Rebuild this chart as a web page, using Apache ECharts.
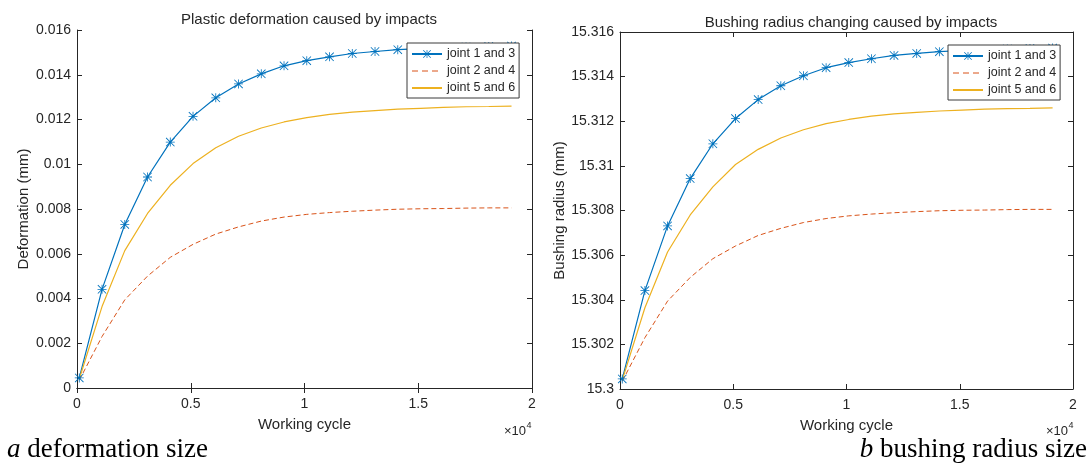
<!DOCTYPE html>
<html>
<head>
<meta charset="utf-8">
<script src="https://cdn.jsdelivr.net/npm/echarts@6/dist/echarts.min.js"></script>
<style>
  html, body { margin: 0; padding: 0; background: #fff; }
  #chart { width: 1091px; height: 463px; }
</style>
</head>
<body>
<div id="chart"></div>
<script>
// Working cycles at which the joints were sampled
const cycles = [100, 1100, 2100, 3100, 4100, 5100, 6100, 7100, 8100, 9100,
                10100, 11100, 12100, 13100, 14100, 15100, 16100, 17100, 18100, 19100];

// Plastic deformation (mm)
const deformJoint13 = [0.00045, 0.00441, 0.00731, 0.00943, 0.01099, 0.01214, 0.01297, 0.01359, 0.01404, 0.0144,
                       0.01463, 0.0148, 0.01495, 0.01504, 0.01512, 0.01517, 0.01521, 0.01524, 0.01526, 0.01528];
const deformJoint24 = [0.00035, 0.0023, 0.00394, 0.005, 0.00584, 0.00642, 0.00688, 0.0072, 0.00746, 0.00764,
                       0.00776, 0.00784, 0.0079, 0.00795, 0.00799, 0.00801, 0.00802, 0.00804, 0.00805, 0.00805];
const deformJoint56 = [0.0004, 0.00364, 0.00614, 0.0078, 0.00906, 0.01003, 0.01074, 0.01125, 0.01162, 0.01189,
                       0.01208, 0.01223, 0.01233, 0.0124, 0.01246, 0.0125, 0.01254, 0.01257, 0.01258, 0.0126];

// Bushing radius (mm)
const radiusJoint13 = [15.30045, 15.30441, 15.30731, 15.30943, 15.31099, 15.31212, 15.31297, 15.31359, 15.31404, 15.3144,
                       15.31463, 15.3148, 15.31495, 15.31504, 15.31512, 15.31517, 15.31521, 15.31524, 15.31526, 15.31528];
const radiusJoint24 = [15.30035, 15.3023, 15.30394, 15.305, 15.30584, 15.30641, 15.30688, 15.3072, 15.30746, 15.30764,
                       15.30776, 15.30784, 15.3079, 15.30795, 15.30799, 15.30801, 15.30802, 15.30804, 15.30805, 15.30805];
const radiusJoint56 = [15.3004, 15.30364, 15.30614, 15.3078, 15.30906, 15.31006, 15.31074, 15.31125, 15.31162, 15.31189,
                       15.31208, 15.31223, 15.31233, 15.3124, 15.31246, 15.3125, 15.31254, 15.31257, 15.31258, 15.3126];

const seriesNames = ['joint 1 and 3', 'joint 2 and 4', 'joint 5 and 6'];
const plotTitles = ['Plastic deformation caused by impacts', 'Bushing radius changing caused by impacts'];
const yNames = ['Deformation (mm)', 'Bushing radius (mm)'];
const xName = 'Working cycle';

const BLUE = '#0072BD', RED = '#D95319', YELLOW = '#EDB120', INK = '#262626';
const SANS = '"Liberation Sans", Arial, Helvetica, sans-serif';
const SERIF = '"Liberation Serif", "Times New Roman", serif';

// asterisk marker: vertical, horizontal and two diagonal strokes
const STAR = 'path://M9.1 0L10.9 0L10.9 20L9.1 20Z M0 9.1L20 9.1L20 10.9L0 10.9Z ' +
             'M0 1.3L1.3 0L20 18.7L18.7 20Z M18.7 0L20 1.3L1.3 20L0 18.7Z';

const pairs = arr => cycles.map((c, i) => [c, arr[i]]);
const trim = v => String(+v.toFixed(3));

const grids = [
  { left: 77, top: 30, width: 455, height: 358 },
  { left: 620, top: 32, width: 453, height: 357 }
];
const yRanges = [[0, 0.016], [15.3, 15.316]];

const xAxes = [], yAxes = [];
grids.forEach((g, gi) => {
  const base = {
    gridIndex: gi, type: 'value', min: 0, max: 20000, interval: 5000,
    axisLine: { show: true, lineStyle: { color: INK, width: 1 } },
    axisTick: { show: true, inside: true, length: 5, lineStyle: { color: INK } },
    splitLine: { show: false }
  };
  xAxes.push(Object.assign({}, base, {
    position: 'bottom',
    name: xName, nameLocation: 'middle', nameGap: 29,
    nameTextStyle: { fontFamily: SANS, fontSize: 15, color: INK },
    axisLabel: { fontFamily: SANS, fontSize: 14, color: INK, margin: 9, formatter: v => trim(v / 10000) }
  }));
  xAxes.push(Object.assign({}, base, { position: 'top', axisLabel: { show: false } }));

  const ybase = {
    gridIndex: gi, type: 'value', min: yRanges[gi][0], max: yRanges[gi][1], interval: 0.002,
    axisLine: { show: true, onZero: false, lineStyle: { color: INK, width: 1 } },
    axisTick: { show: true, inside: true, length: 5, lineStyle: { color: INK } },
    splitLine: { show: false }
  };
  yAxes.push(Object.assign({}, ybase, {
    position: 'left',
    name: yNames[gi], nameLocation: 'middle', nameGap: gi === 0 ? 46 : 52,
    nameTextStyle: { fontFamily: SANS, fontSize: 15, color: INK },
    axisLabel: { fontFamily: SANS, fontSize: 14, color: INK, margin: 6, formatter: trim }
  }));
  yAxes.push(Object.assign({}, ybase, { position: 'right', axisLabel: { show: false } }));
});

const sets = [[deformJoint13, deformJoint24, deformJoint56], [radiusJoint13, radiusJoint24, radiusJoint56]];
const series = [];
sets.forEach((s, gi) => {
  const common = { type: 'line', xAxisIndex: gi * 2, yAxisIndex: gi * 2, animation: false, silent: true,
                   emphasis: { disabled: true } };
  series.push(Object.assign({}, common, {
    name: seriesNames[0], data: pairs(s[0]),
    symbol: STAR, symbolSize: 9, showSymbol: true, showAllSymbol: true,
    itemStyle: { color: BLUE }, lineStyle: { color: BLUE, width: 1.2 }
  }));
  series.push(Object.assign({}, common, {
    name: seriesNames[1], data: pairs(s[1]), symbol: 'none',
    itemStyle: { color: RED }, lineStyle: { color: RED, width: 1, type: [5, 3] }
  }));
  series.push(Object.assign({}, common, {
    name: seriesNames[2], data: pairs(s[2]), symbol: 'none',
    itemStyle: { color: YELLOW }, lineStyle: { color: YELLOW, width: 1.2 }
  }));
});

// legend entries: star on the first line only, plain lines for the others
const legendData = [
  { name: seriesNames[0] },
  { name: seriesNames[1], itemStyle: { opacity: 0 }, lineStyle: { type: [6, 4], width: 1 } },
  { name: seriesNames[2], itemStyle: { opacity: 0 } }
];
const legendBase = {
  orient: 'vertical', data: legendData, selectedMode: false,
  backgroundColor: '#fff', borderColor: '#3a3a3a', borderWidth: 1, borderRadius: 0,
  padding: [4, 4, 3, 4], itemWidth: 30, itemHeight: 10, itemGap: 3,
  textStyle: { fontFamily: SANS, fontSize: 12.5, color: INK, lineHeight: 14 }
};

const chart = echarts.init(document.getElementById('chart'), null, { renderer: 'canvas' });
chart.setOption({
  backgroundColor: '#fff',
  animation: false,
  title: [
    { text: plotTitles[0], left: 304, top: 7, textAlign: 'center',
      textStyle: { fontFamily: SANS, fontSize: 15, fontWeight: 'normal', color: INK } },
    { text: plotTitles[1], left: 846, top: 10, textAlign: 'center',
      textStyle: { fontFamily: SANS, fontSize: 15, fontWeight: 'normal', color: INK } }
  ],
  legend: [
    Object.assign({}, legendBase, { left: 407, top: 43 }),
    Object.assign({}, legendBase, { left: 948, top: 45 })
  ],
  grid: grids,
  xAxis: xAxes,
  yAxis: yAxes,
  series: series,
  graphic: [
    { type: 'text', x: 526, y: 431, style: { text: '\u00d710', align: 'right', verticalAlign: 'middle',
      font: '13px ' + SANS, fill: INK } },
    { type: 'text', x: 526.5, y: 426, style: { text: '4', align: 'left', verticalAlign: 'middle',
      font: '9px ' + SANS, fill: INK } },
    { type: 'text', x: 1068, y: 431, style: { text: '\u00d710', align: 'right', verticalAlign: 'middle',
      font: '13px ' + SANS, fill: INK } },
    { type: 'text', x: 1068.5, y: 426, style: { text: '4', align: 'left', verticalAlign: 'middle',
      font: '9px ' + SANS, fill: INK } },
    { type: 'text', x: 7, y: 450, style: {
      text: '{i|a} deformation size', align: 'left', verticalAlign: 'middle',
      rich: { i: { fontFamily: SERIF, fontSize: 27, fontStyle: 'italic', fill: '#000' } },
      fontFamily: SERIF, fontSize: 27, fill: '#000' } },
    { type: 'text', x: 1087, y: 450, style: {
      text: '{i|b} bushing radius size', align: 'right', verticalAlign: 'middle',
      rich: { i: { fontFamily: SERIF, fontSize: 27, fontStyle: 'italic', fill: '#000' } },
      fontFamily: SERIF, fontSize: 27, fill: '#000' } }
  ]
});
</script>
</body>
</html>
